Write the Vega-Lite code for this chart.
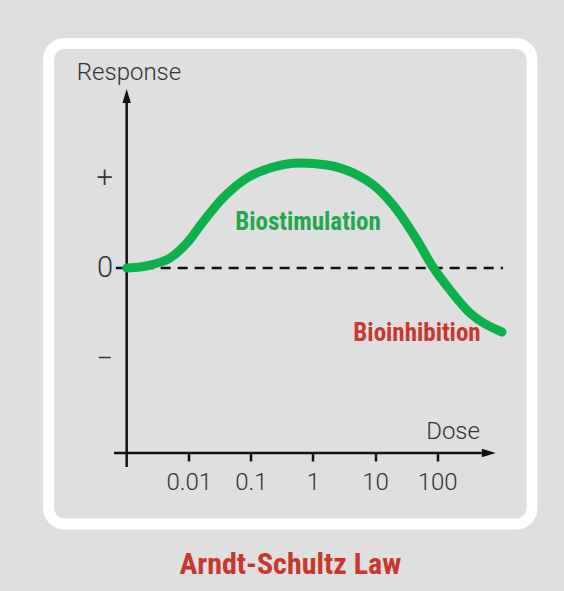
{
  "$schema": "https://vega.github.io/schema/vega-lite/v6.json",
  "width": 483.5,
  "height": 480.5,
  "autosize": {"type": "none"},
  "padding": {"left": 48.5, "top": 43.5, "right": 32, "bottom": 67},
  "background": "#dfdfdf",
  "view": {"fill": "#dfdfdf", "stroke": "#ffffff", "strokeWidth": 11, "cornerRadius": 16},
  "title": {
    "text": "Arndt-Schultz Law",
    "orient": "bottom",
    "anchor": "middle",
    "font": "Roboto Condensed, Noto Sans Condensed, Liberation Sans",
    "fontSize": 30,
    "fontWeight": "bold",
    "color": "#c8372d",
    "offset": 26
  },
  "config": {"axis": {"grid": false}},
  "datasets": {
    "curve": [
      {"dose": 0.001, "response": 0.0},
      {"dose": 0.00164, "response": 0.011},
      {"dose": 0.00237, "response": 0.033},
      {"dose": 0.00498, "response": 0.111},
      {"dose": 0.00935, "response": 0.278},
      {"dose": 0.0169, "response": 0.511},
      {"dose": 0.0356, "response": 0.778},
      {"dose": 0.0866, "response": 1.0},
      {"dose": 0.203, "response": 1.111},
      {"dose": 0.618, "response": 1.167},
      {"dose": 1.68, "response": 1.144},
      {"dose": 4.41, "response": 1.056},
      {"dose": 10.7, "response": 0.889},
      {"dose": 22.5, "response": 0.644},
      {"dose": 47.3, "response": 0.311},
      {"dose": 85.5, "response": 0.011},
      {"dose": 161, "response": -0.244},
      {"dose": 337, "response": -0.5},
      {"dose": 634, "response": -0.633},
      {"dose": 1105, "response": -0.711}
    ],
    "zero": [{"dose": 0.001, "dose_end": 1150, "response": 0}],
    "zerotick": [{"dose": 0.00067, "dose_end": 0.001, "response": 0}],
    "axes": [
      {"dose": 0.000625, "dose_end": 523, "response": -2.056, "response_end": -2.056},
      {"dose": 0.001, "dose_end": 0.001, "response": -2.211, "response_end": 1.833}
    ],
    "arrow_up": [{"dose": 0.001, "response": 1.833}],
    "arrow_right": [{"dose": 523, "response": -2.056}],
    "labels": [
      {"text": "Response", "kind": "axis", "dose": 0.00109, "response": 2.167},
      {"text": "Dose", "kind": "axis", "dose": 180, "response": -1.822},
      {"text": "Biostimulation", "kind": "stim", "dose": 0.831, "response": 0.511},
      {"text": "Bioinhibition", "kind": "inhib", "dose": 47.3, "response": -0.722}
    ]
  },
  "encoding": {
    "x": {
      "field": "dose",
      "type": "quantitative",
      "scale": {"type": "log", "domain": [0.0000551, 3365], "nice": false, "zero": false},
      "axis": {
        "values": [0.01, 0.1, 1, 10, 100],
        "format": "~g",
        "orient": "bottom",
        "offset": -71,
        "domain": false,
        "ticks": true,
        "tickSize": 8,
        "tickWidth": 2.5,
        "tickColor": "#111111",
        "labelPadding": 9,
        "labelFontSize": 24,
        "labelFont": "Roboto",
        "labelFontWeight": 300,
        "labelColor": "#333333",
        "labelFlush": false,
        "labelOverlap": false,
        "title": null,
        "grid": false
      }
    },
    "y": {
      "field": "response",
      "type": "quantitative",
      "scale": {"domain": [-2.844, 2.494], "nice": false, "zero": false},
      "axis": {
        "values": [1, 0, -1],
        "labelExpr": "datum.value > 0 ? '+' : (datum.value < 0 ? '−' : '0')",
        "orient": "left",
        "offset": -64,
        "domain": false,
        "ticks": false,
        "tickSize": 0,
        "labelPadding": 0,
        "labelFontSize": 29,
        "labelFont": "Roboto",
        "labelFontWeight": 300,
        "labelColor": "#333333",
        "labelFlush": false,
        "labelOverlap": false,
        "title": null,
        "grid": false
      }
    }
  },
  "layer": [
    {
      "data": {"name": "zero"},
      "mark": {"type": "rule", "strokeDash": [10, 7], "strokeWidth": 2.5, "color": "#111111"},
      "encoding": {"x2": {"field": "dose_end"}}
    },
    {
      "data": {"name": "zerotick"},
      "mark": {"type": "rule", "strokeWidth": 2.5, "color": "#111111"},
      "encoding": {"x2": {"field": "dose_end"}}
    },
    {
      "data": {"name": "axes"},
      "mark": {"type": "rule", "strokeWidth": 2.5, "color": "#111111"},
      "encoding": {"x2": {"field": "dose_end"}, "y2": {"field": "response_end"}}
    },
    {
      "data": {"name": "arrow_up"},
      "mark": {"type": "point", "shape": "M0,-2L0.6,0L-0.6,0Z", "size": 196, "filled": true, "color": "#111111", "opacity": 1},
      "encoding": {}
    },
    {
      "data": {"name": "arrow_right"},
      "mark": {"type": "point", "shape": "M0,-2L0.6,0L-0.6,0Z", "size": 196, "angle": 90, "filled": true, "color": "#111111", "opacity": 1},
      "encoding": {}
    },
    {
      "data": {"name": "curve"},
      "mark": {"type": "line", "interpolate": "monotone", "strokeWidth": 9, "strokeCap": "round", "color": "#0db14b"},
      "encoding": {}
    },
    {
      "data": {"name": "labels"},
      "transform": [{"filter": "datum.kind === 'axis'"}],
      "mark": {"type": "text", "font": "Roboto", "fontWeight": 300, "fontSize": 24, "color": "#333333", "align": "center", "baseline": "middle"},
      "encoding": {"text": {"field": "text"}}
    },
    {
      "data": {"name": "labels"},
      "transform": [{"filter": "datum.kind === 'stim'"}],
      "mark": {"type": "text", "font": "Roboto Condensed, Noto Sans Condensed, Liberation Sans", "fontWeight": "bold", "fontSize": 25, "color": "#1fa84e", "align": "center", "baseline": "middle"},
      "encoding": {"text": {"field": "text"}}
    },
    {
      "data": {"name": "labels"},
      "transform": [{"filter": "datum.kind === 'inhib'"}],
      "mark": {"type": "text", "font": "Roboto Condensed, Noto Sans Condensed, Liberation Sans", "fontWeight": "bold", "fontSize": 25, "color": "#c9382e", "align": "center", "baseline": "middle"},
      "encoding": {"text": {"field": "text"}}
    }
  ]
}
